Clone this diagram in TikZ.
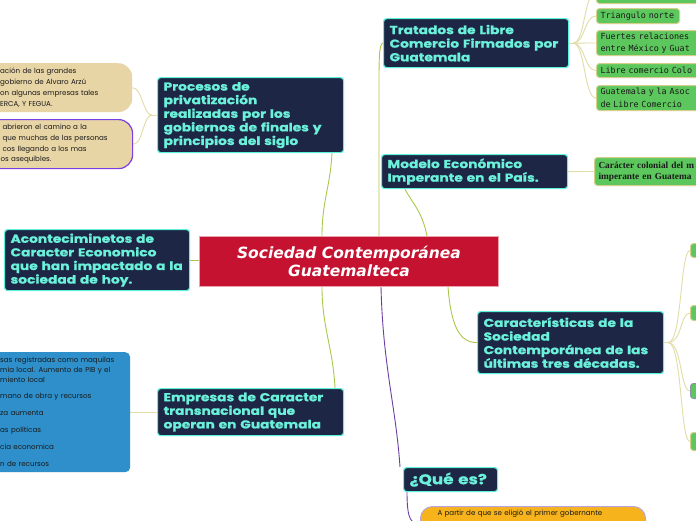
\documentclass[tikz,border=0pt]{standalone}
\usepackage{fontspec}
\setmainfont{Poppins}
\newfontfamily\titlef{Poppins}[FakeStretch=1.2, BoldFeatures={FakeBold=1}]
\newfontfamily\cenf{DejaVu Sans}
\newfontfamily\monof{DejaVu Sans Mono}
\newfontfamily\slabf{Liberation Serif}
\usetikzlibrary{calc}
\pgfdeclarelayer{bg}
\pgfsetlayers{bg,main}
\newcommand\indl{\hspace*{30pt}}
\definecolor{navy}{HTML}{1E2646}
\definecolor{aqua}{HTML}{5CF2DA}
\definecolor{aquat}{HTML}{6BF0DA}
\definecolor{crim}{HTML}{C41230}
\definecolor{crimb}{HTML}{E9A3AE}
\definecolor{tanf}{HTML}{E8D5A6}
\definecolor{purp}{HTML}{7A3FE0}
\definecolor{blu}{HTML}{2E8FCB}
\definecolor{grn}{HTML}{5CC75C}
\definecolor{grnb}{HTML}{D6CF8C}
\definecolor{org}{HTML}{F7B31C}
\definecolor{lav}{HTML}{B8A3DD}
\definecolor{lime}{HTML}{A9C94C}
\definecolor{pale}{HTML}{E2DCA6}
\definecolor{vio}{HTML}{6A3FA3}
\definecolor{grayb}{HTML}{8E93AC}
\definecolor{ink}{HTML}{1A1A1A}
\tikzset{
  topic/.style={draw=aqua, fill=navy, line width=1.2pt, rounded corners=3pt, text=aquat,
    font={\titlef\bfseries\fontsize{11.5}{13.6}\selectfont}, align=left, anchor=north west,
    inner xsep=6pt, inner ysep=0pt},
  central/.style={draw=crimb, fill=crim, line width=1pt, text=white,
    font={\cenf\bfseries\itshape\fontsize{15.5}{18.5}\selectfont}, align=center, anchor=north west,
    minimum width=299pt, minimum height=50pt},
  note/.style={fill=tanf, rounded corners=14pt, text=ink, anchor=north west, align=left,
    font={\fontsize{7.1}{10.7}\selectfont\hyphenpenalty=10000}, inner xsep=0pt, inner ysep=0pt},
  gitem/.style={fill=grn, draw=grnb, line width=1pt, rounded corners=3pt, anchor=north west,
    font={\monof\fontsize{8.4}{12.4}\selectfont}, text=ink, align=left, inner xsep=4pt, inner ysep=0pt},
  mainline/.style={draw=lime, line width=0.9pt},
  subline/.style={draw=pale, line width=0.9pt},
  pline/.style={draw=vio, line width=0.9pt},
}
\begin{document}
\begin{tikzpicture}[x=1pt,y=-1pt]
\useasboundingbox (0,0) rectangle (696,520);
\clip (0,0) rectangle (696,520);

% central
\node[central] (cen) at (199,236) {Sociedad Contemporánea\\Guatemalteca};

% topics
\node[topic, minimum width=186pt, minimum height=75pt, text width=174pt] (proc) at (157,77)
  {Procesos de\\privatización\\realizadas por los\\gobiernos de finales y\\principios del siglo};
\node[topic, minimum width=185pt, minimum height=61pt, text width=173pt] (acon) at (4,229)
  {Aconteciminetos de\\Caracter Economico\\que han impactado a la\\sociedad de hoy.};
\node[topic, minimum width=186pt, minimum height=47pt, text width=174pt] (emp) at (157,388)
  {Empresas de Caracter\\transnacional que\\operan en Guatemala};
\node[topic, minimum width=185pt, minimum height=49pt, text width=173pt] (trat) at (383,18)
  {Tratados de Libre\\Comercio Firmados por\\Guatemala};
\node[topic, minimum width=186pt, minimum height=34pt, text width=174pt] (mod) at (381,154)
  {Modelo Económico\\Imperante en el País.};
\node[topic, minimum width=186pt, minimum height=62pt, text width=174pt] (car) at (477,311)
  {Características de la\\Sociedad\\Contemporánea de las\\últimas tres décadas.};
\node[topic, minimum width=94pt, minimum height=24pt, text width=82pt,
  font={\titlef\bfseries\fontsize{14}{16}\selectfont}] (que) at (403,467) {¿Qué es?};

% left notes
\node[note, text width=162pt, minimum height=49pt] (tan1) at (-30,63)
  {\indl ación de las grandes\\\indl gobierno de Alvaro Arzú\\\indl on algunas empresas tales\\\indl ERCA, Y FEGUA.};
\node[note, draw=purp, line width=1.2pt, text width=162pt, minimum height=49pt] (tan2) at (-30,119)
  {\indl\hspace*{2pt}abrieron el camino a la\\\indl\hspace*{2pt}que muchas de las personas\\\indl\hspace*{2pt}cos llegando a los mas\\\indl os asequibles.};
\node[note, fill=blu, rounded corners=5pt, text width=160pt, minimum height=120pt,
  font={\fontsize{7.1}{10}\selectfont\hyphenpenalty=10000}] (blue) at (-30,352)
  {\indl sas registradas como maquilas\\\indl mia local. Aumento de PIB y el\\\indl miento local\\[6pt]
   \indl mano de obra y recursos\\[7pt]\indl za aumenta\\[7pt]\indl as políticas\\[7pt]\indl cia economica\\[7pt]\indl n de recursos};

% right items of Tratados
\node[gitem, minimum width=120pt, minimum height=23pt] (g0) at (596,-20) {};
\node[gitem, minimum width=83pt, minimum height=15pt, text width=75pt] (g1) at (596,8) {Triangulo norte};
\node[gitem, minimum width=130pt, minimum height=25pt, text width=122pt] (g2) at (596,30) {Fuertes relaciones\\entre México y Guat};
\node[gitem, minimum width=130pt, minimum height=14pt, text width=122pt] (g3) at (596,63) {Libre comercio Colo};
\node[gitem, minimum width=130pt, minimum height=25pt, text width=122pt] (g4) at (596,85) {Guatemala y la Asoc\\de Libre Comercio};

% Modelo item
\node[gitem, minimum width=130pt, minimum height=28pt, text width=122pt,
  font={\slabf\bfseries\fontsize{9.3}{11}\selectfont}] (gm) at (594,157)
  {Carácter colonial del m\\imperante en Guatema};

% Caracteristicas items
\node[gitem, minimum width=40pt, minimum height=14pt] (c1) at (690,243) {};
\node[gitem, minimum width=40pt, minimum height=15pt] (c2) at (690,305) {};
\node[gitem, draw=grayb, minimum width=40pt, minimum height=15pt] (c3) at (690,383) {};
\node[gitem, minimum width=40pt, minimum height=18pt] (c4) at (690,432) {};

% orange
\node[anchor=north west, fill=org, draw=lav, line width=1pt, rounded corners=12pt,
  font={\fontsize{7.1}{10}\selectfont}, text=ink, align=left, text width=191pt,
  inner xsep=17pt, inner ysep=3pt, text depth=22pt] (orng) at (420,506)
  {A partir de que se eligió el primer gobernante};

\begin{pgfonlayer}{bg}
\fill[white] (0,0) rectangle (696,520);
% central branches
\path[mainline] ([xshift=123pt]cen.north west) .. controls +(0,-35) and +(-2,35) .. ([xshift=175pt]proc.south west);
\path[mainline] ([xshift=123pt]cen.south west) .. controls +(0,40) and +(-2,-40) .. ([xshift=178pt]emp.north west);
\path[mainline] (acon.east) -- (acon.east -| cen.west);
\path[mainline] ([xshift=180pt]cen.north west) -- ++(0,-150) .. controls +(0,-25) and +(-4,0) .. (trat.west);
\path[mainline] ([xshift=228pt]cen.north west) .. controls +(-5,-25) and +(8,15) .. ([xshift=24pt]mod.south west);
\path[mainline] ([xshift=249pt]cen.south west) .. controls +(3,38) and +(-18,0) .. (car.west);
\path[pline] ([xshift=182pt]cen.south west) .. controls +(2,80) and +(-4,-60) .. ([xshift=-3pt]que.north west);
\path[pline] ([xshift=4pt]que.south west) .. controls +(0,30) and +(-8,0) .. (orng.west);

% sub branches
\path[subline] (proc.west) -- ++(-5,0) coordinate (pj);
\path[subline] (pj) .. controls +(-9,0) and +(10,0) .. (tan1.east);
\path[subline] (pj) .. controls +(-9,0) and +(10,0) .. (tan2.east);
\path[subline] (emp.west) -- (emp.west -| blue.east);
\path[subline] (trat.east) -- ++(4,0) coordinate (tj);
\foreach \g in {g0,g1,g2,g3,g4}{
  \path[subline] (tj) .. controls +(12,0) and +(-12,0) .. (\g.west);
}
\path[subline] (mod.east) -- (gm.west);
\path[subline] (car.east) -- ++(4,0) coordinate (cj);
\foreach \g in {c1,c2,c3,c4}{
  \path[subline] (cj) .. controls +(14,0) and +(-10,0) .. (\g.west);
}
\end{pgfonlayer}
\end{tikzpicture}
\end{document}
